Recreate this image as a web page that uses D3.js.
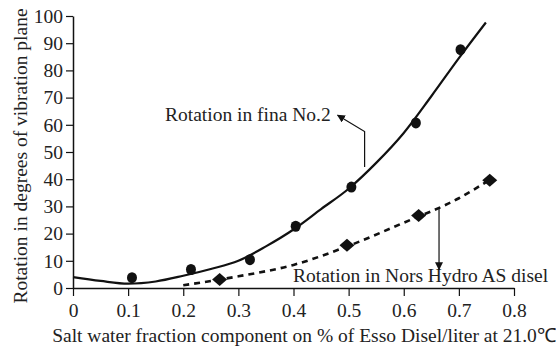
<!DOCTYPE html>
<html><head><meta charset="utf-8">
<script src="https://cdn.jsdelivr.net/npm/d3@7"></script>
<style>body{margin:0;background:#fff}svg{display:block}</style>
</head><body><svg id="c" width="556" height="346"></svg>
<script>
const xTicks = [0,0.1,0.2,0.3,0.4,0.5,0.6,0.7,0.8];
const yTicks = [0,10,20,30,40,50,60,70,80,90,100];
// Measured points, Rotation in fina No.2
const finaX = [0.107,0.214,0.321,0.404,0.505,0.622,0.703];
const finaY = [3.8,6.8,10.4,22.7,37.1,60.7,87.6];
// Fitted curve for fina No.2
const finaFitX = [0,0.05,0.1,0.15,0.2,0.25,0.3,0.35,0.4,0.45,0.5,0.55,0.6,0.65,0.7,0.749];
const finaFitY = [4.0,2.6,1.6,2.4,4.5,7.0,10.0,15.3,21.5,29.0,36.5,46.0,57.0,70.5,84.5,97.6];
// Measured points, Rotation in Nors Hydro AS disel
const norsX = [0.266,0.497,0.627,0.756];
const norsY = [3.1,15.7,26.7,39.6];
// Fitted curve for Nors Hydro
const norsFitX = [0.2,0.3,0.4,0.5,0.6,0.7,0.756];
const norsFitY = [1.0,4.3,8.5,15.5,24.0,33.0,39.8];

const FONT = "Liberation Serif";
const FS = 19.5;
const svg = d3.select("#c");
const x = d3.scaleLinear().domain([0,0.8]).range([73,514]);
const y = d3.scaleLinear().domain([0,100]).range([288,16]);

const defs = svg.append("defs");
defs.append("marker").attr("id","ah").attr("viewBox","0 0 10 10").attr("refX",9).attr("refY",5)
  .attr("markerWidth",8).attr("markerHeight",8).attr("markerUnits","userSpaceOnUse").attr("orient","auto")
  .append("path").attr("d","M0,0L10,5L0,10Z").attr("fill","#111");

const xa = svg.append("g").attr("transform","translate(0,288)")
  .call(d3.axisBottom(x).tickValues(xTicks).tickFormat(d=>d===0?"0":d3.format(".1f")(d)).tickSize(8).tickSizeOuter(0));
const ya = svg.append("g").attr("transform","translate(73,0)")
  .call(d3.axisLeft(y).tickValues(yTicks).tickSize(7).tickSizeOuter(0));
[xa,ya].forEach(a=>{
  a.attr("font-family",FONT).attr("font-size",FS);
  a.select(".domain").attr("stroke","#111").attr("stroke-width",1.5);
  a.selectAll(".tick line").attr("stroke","#111").attr("stroke-width",1.2);
  a.selectAll("text").attr("font-family",FONT).attr("font-size",FS).attr("fill","#222");
});
xa.selectAll("text").attr("dy","0").attr("y",29);
ya.selectAll("text").attr("x",-10);

const line = d3.line().x(d=>x(d[0])).y(d=>y(d[1])).curve(d3.curveMonotoneX);
svg.append("path").datum(d3.zip(finaFitX,finaFitY)).attr("d",line)
  .attr("fill","none").attr("stroke","#111").attr("stroke-width",2.2);
svg.append("path").datum(d3.zip(norsFitX,norsFitY)).attr("d",line)
  .attr("fill","none").attr("stroke","#111").attr("stroke-width",2.6).attr("stroke-dasharray","6,5");

svg.selectAll(".c").data(d3.zip(finaX,finaY)).join("ellipse")
  .attr("cx",d=>x(d[0])).attr("cy",d=>y(d[1])).attr("rx",5).attr("ry",5.5).attr("fill","#111");
svg.selectAll(".d").data(d3.zip(norsX,norsY)).join("path")
  .attr("transform",d=>`translate(${x(d[0])},${y(d[1])})`)
  .attr("d","M0,-6.5L7.5,0L0,6.5L-7.5,0Z").attr("fill","#111");

function txt(){ return svg.append("text").attr("font-family",FONT).attr("font-size",FS).attr("fill","#222"); }
// annotations
txt().attr("x",165).attr("y",121).text("Rotation in fina No.2");
svg.append("polyline").attr("points",[[x(0.529),y(44.5)],[x(0.529),y(57.5)],[x(0.48),y(63.5)]].join(" "))
  .attr("fill","none").attr("stroke","#111").attr("stroke-width",1.2).attr("marker-end","url(#ah)");
txt().attr("x",293).attr("y",282).text("Rotation in Nors Hydro AS disel");
svg.append("line").attr("x1",x(0.664)).attr("y1",y(29.8)).attr("x2",x(0.664)).attr("y2",y(6.8))
  .attr("stroke","#111").attr("stroke-width",1.2).attr("marker-end","url(#ah)");

txt().attr("x",304).attr("y",342).attr("text-anchor","middle")
  .text("Salt water fraction component on % of Esso Disel/liter at 21.0℃");
txt().attr("transform","translate(27,156) rotate(-90)").attr("text-anchor","middle")
  .text("Rotation in degrees of vibration plane");
</script></body></html>
